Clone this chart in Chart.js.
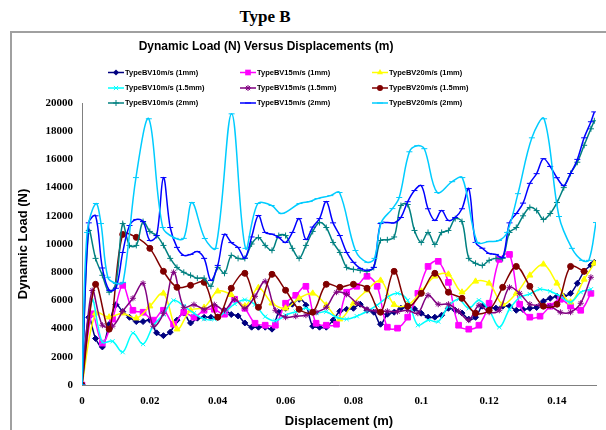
<!DOCTYPE html>
<html>
<head>
<meta charset="utf-8">
<title>Type B</title>
<script src="https://cdn.jsdelivr.net/npm/chart.js@4.4.1/dist/chart.umd.min.js"></script>
<style>
  body { margin: 0; width: 606px; height: 430px; overflow: hidden; background: #fff; position: relative; }
  #head { position: absolute; left: 0; top: 7px; width: 530px; text-align: center; font: bold 17px "Liberation Serif", serif; }
  #frame { position: absolute; left: 10px; top: 31px; width: 640px; height: 440px; border: 2px solid #a0a0a0; }
  #wrap { position: absolute; left: 0; top: 0; width: 606px; height: 430px; }
</style>
</head>
<body>
<div id="head">Type B</div>
<div id="frame"></div>
<div id="wrap"><canvas id="loadChart"></canvas></div>
<script>
// displacement grids (m)
const dispStep2 = [0, 0.002, 0.004, 0.006, 0.008, 0.010, 0.012, 0.014, 0.016, 0.018,
  0.020, 0.022, 0.024, 0.026, 0.028, 0.030, 0.032, 0.034, 0.036, 0.038,
  0.040, 0.042, 0.044, 0.046, 0.048, 0.050, 0.052, 0.054, 0.056, 0.058,
  0.060, 0.062, 0.064, 0.066, 0.068, 0.070, 0.072, 0.074, 0.076, 0.078,
  0.080, 0.082, 0.084, 0.086, 0.088, 0.090, 0.092, 0.094, 0.096, 0.098,
  0.100, 0.102, 0.104, 0.106, 0.108, 0.110, 0.112, 0.114, 0.116, 0.118,
  0.120, 0.122, 0.124, 0.126, 0.128, 0.130, 0.132, 0.134, 0.136, 0.138,
  0.140, 0.142, 0.144, 0.146, 0.148, 0.150, 0.151];
const dispStep3 = [0, 0.003, 0.006, 0.009, 0.012, 0.015, 0.018, 0.021, 0.024, 0.027,
  0.030, 0.033, 0.036, 0.039, 0.042, 0.045, 0.048, 0.051, 0.054, 0.057,
  0.060, 0.063, 0.066, 0.069, 0.072, 0.075, 0.078, 0.081, 0.084, 0.087,
  0.090, 0.093, 0.096, 0.099, 0.102, 0.105, 0.108, 0.111, 0.114, 0.117,
  0.120, 0.123, 0.126, 0.129, 0.132, 0.135, 0.138, 0.141, 0.144, 0.147, 0.150];
const dispStep4 = [0, 0.004, 0.008, 0.012, 0.016, 0.020, 0.024, 0.028, 0.032, 0.036,
  0.040, 0.044, 0.048, 0.052, 0.056, 0.060, 0.064, 0.068, 0.072, 0.076,
  0.080, 0.084, 0.088, 0.092, 0.096, 0.100, 0.104, 0.108, 0.112, 0.116,
  0.120, 0.124, 0.128, 0.132, 0.136, 0.140, 0.144, 0.148, 0.151];
const dispSky = [0, 0.0015, 0.0041, 0.0056, 0.0076, 0.0100, 0.0121, 0.0159, 0.0197, 0.0238,
  0.0276, 0.0300, 0.0324, 0.0362, 0.0394, 0.0441, 0.0482, 0.0518, 0.0559, 0.0588,
  0.0641, 0.0671, 0.0694, 0.0732, 0.0759, 0.0806, 0.0841, 0.0862, 0.0882, 0.0915,
  0.0935, 0.0965, 0.0988, 0.1009, 0.1047, 0.1091, 0.1121, 0.1165, 0.1200, 0.1229,
  0.1253, 0.1285, 0.1326, 0.1362, 0.1406, 0.1444, 0.1474, 0.1494, 0.1515];

// dynamic load (N)
const bv10_1 = [0, 4800, 3300, 2700, 4300, 5700, 5200, 4800, 4500, 4500,
  4600, 3700, 3500, 3750, 4600, 5100, 4400, 4740, 4800, 4800,
  4800, 5300, 5000, 4900, 4400, 4100, 4100, 4100, 3960, 5160,
  5440, 5730, 6080, 5660, 4170, 4100, 4100, 4600, 5230, 5370,
  5440, 5730, 5300, 5160, 4310, 5020, 5160, 5440, 5510, 5400,
  5090, 4810, 4810, 4950, 5440, 5300, 5100, 4670, 4800, 5590,
  5500, 5450, 5590, 5590, 5300, 5350, 5440, 5500, 5940, 6150,
  6290, 6300, 6500, 7210, 8060, 8500, 8700];
const bv15_1 = [0, 5050, 2970, 4670, 7070, 5300, 5160, 4600, 5300, 4310,
  5160, 4810, 5300, 5370, 5020, 6080, 5440, 4380, 4240, 4240,
  5800, 6360, 7000, 4380, 4240, 4310, 6580, 7000, 7710, 7000,
  4100, 4030, 4810, 6500, 8410, 8770, 7280, 4240, 3960, 4240,
  5800, 8910, 9260, 5730, 4810, 4880, 5590, 6080, 5590, 5300, 6500];
const bv20_1 = [0, 5090, 4810, 5090, 4740, 5590, 6500, 3960, 5300, 5500,
  6650, 6400, 5600, 6900, 5800, 5440, 6150, 6500, 5660, 4670,
  5800, 6720, 7420, 5700, 5660, 6650, 7710, 7850, 6580, 7350,
  7210, 5730, 6500, 7780, 8560, 7210, 5870, 7490, 8630];
const bv10_15 = [0, 6000, 3040, 3100, 2330, 3680, 2900, 4200, 5020, 6000,
  5600, 5090, 4670, 4670, 5150, 5750, 6050, 5700, 4850, 4550,
  4950, 5200, 5450, 5100, 5200, 4800, 4670, 4880, 5230, 5660,
  6220, 6500, 6000, 4240, 4600, 4500, 5600, 6080, 5440, 6010,
  5300, 4100, 5370, 6220, 6450, 6790, 6650, 6290, 5870, 6580, 6790];
const bv15_15 = [0, 6700, 4240, 4170, 5230, 6150, 7210, 4170, 5090, 7990,
  5510, 5700, 5370, 5700, 5300, 6080, 5440, 6290, 7350, 5300,
  4810, 4880, 4950, 5160, 5510, 6580, 6430, 5800, 5370, 5230,
  5230, 5200, 5300, 5090, 6360, 5730, 5730, 5230, 4600, 5660,
  5160, 5300, 6930, 6500, 5730, 5660, 5590, 5160, 5160, 5800, 7640];
const bv20_15 = [0, 7140, 3960, 10680, 10470, 9690, 8060, 6930, 7070, 7280,
  4810, 6860, 7920, 5510, 7850, 6720, 5370, 5160, 7140, 6930,
  7140, 6860, 5160, 8060, 5590, 6500, 7920, 6580, 6150, 5090,
  5300, 6930, 8410, 7000, 5590, 5730, 8410, 8060];
const bv10_2 = [0, 10960, 8980, 7780, 6580, 7210, 11450, 9900, 9900, 11590,
  10890, 10600, 9900, 8980, 8340, 7990, 7780, 7570, 7570, 7000,
  8340, 7920, 9190, 8980, 8980, 10000, 10460, 9900, 9550, 10600,
  10600, 9690, 8980, 9900, 10890, 11520, 11170, 10110, 9400, 8340,
  8200, 8130, 8060, 8340, 10250, 10300, 10500, 12730, 12800, 10960,
  10110, 10820, 9970, 10820, 10960, 11800, 11590, 8980, 8630, 8480,
  8840, 8980, 8980, 10820, 11170, 12000, 12590, 12370, 11740, 12160,
  12940, 14000, 15000, 15800, 17000, 18170, 18740];
const bv15_2 = [0, 11500, 12000, 8300, 6720, 6860, 9400, 11310, 11740, 11590,
  10250, 10600, 14710, 11170, 9760, 9190, 9260, 9470, 8980, 7420,
  8480, 10680, 10100, 9760, 9000, 10500, 12020, 10820, 10700, 10470,
  10110, 10820, 11800, 10320, 11200, 11800, 13010, 11500, 10600, 9400,
  8700, 8270, 8130, 8340, 11450, 11520, 11500, 11880, 13000, 13790,
  14140, 12500, 11670, 12370, 11670, 11880, 12500, 13930, 10110, 9700,
  9330, 9260, 9050, 11500, 12160, 12900, 14300, 14990, 16050, 15500,
  14700, 14140, 15000, 16000, 17530, 18670, 19370];
const bv20_2 = [0, 10820, 12870, 11450, 7640, 7210, 7280, 14710, 18880, 11170,
  10400, 10400, 12940, 10390, 9690, 19230, 9690, 12870, 12730, 12160,
  12870, 13010, 13220, 13430, 13650, 9540, 8700, 8980, 11520, 12510,
  13300, 16540, 16970, 16760, 13650, 14420, 14710, 10110, 10180, 10250,
  10820, 13570, 17530, 18880, 11950, 9690, 8840, 8840, 11520];

const seriesNames = ['TypeBV10m/s (1mm)', 'TypeBV15m/s (1mm)', 'TypeBV20m/s (1mm)',
  'TypeBV10m/s (1.5mm)', 'TypeBV15m/s (1.5mm)', 'TypeBV20m/s (1.5mm)',
  'TypeBV10m/s (2mm)', 'TypeBV15m/s (2mm)', 'TypeBV20m/s (2mm)'];
const xTickValues = [0, 0.02, 0.04, 0.06, 0.08, 0.1, 0.12, 0.14];

const seriesX = [dispStep2, dispStep3, dispStep4, dispStep3, dispStep3, dispStep4, dispStep2, dispStep2, dispSky];
const seriesY = [bv10_1, bv15_1, bv20_1, bv10_15, bv15_15, bv20_15, bv10_2, bv15_2, bv20_2];
const colors = ['#000080', '#FF00FF', '#FFFF00', '#00FFFF', '#800080', '#800000', '#008080', '#0000FF', '#00CCFF'];
const markers = ['rectRot', 'rect', 'triangle', 'crossRot', 'star', 'circle', 'cross', 'line', 'line'];
const markerSize = [3, 4, 3.5, 3, 3, 3, 3, 3, 3];

const datasets = seriesNames.map((name, i) => ({
  label: name,
  data: seriesY[i].map((v, j) => ({ x: seriesX[i][j], y: v })),
  showLine: true,
  borderColor: colors[i],
  backgroundColor: colors[i],
  borderWidth: 1.5,
  tension: 0.35,
  pointStyle: markers[i],
  pointRadius: markerSize[i],
  pointBorderWidth: 1,
  pointBackgroundColor: colors[i],
  pointBorderColor: colors[i],
  order: 8 - i
}));

// small marker painter for the legend
function drawMarker(ctx, style, r, x, y) {
  ctx.beginPath();
  if (style === 'rectRot') {
    ctx.moveTo(x, y - r); ctx.lineTo(x + r, y); ctx.lineTo(x, y + r); ctx.lineTo(x - r, y); ctx.closePath(); ctx.fill();
  } else if (style === 'rect') {
    const s = r * Math.SQRT1_2;
    ctx.rect(x - s, y - s, 2 * s, 2 * s); ctx.fill();
  } else if (style === 'triangle') {
    ctx.moveTo(x, y - r); ctx.lineTo(x + r * 0.866, y + r * 0.5); ctx.lineTo(x - r * 0.866, y + r * 0.5); ctx.closePath(); ctx.fill();
  } else if (style === 'circle') {
    ctx.arc(x, y, r, 0, Math.PI * 2); ctx.fill();
  } else {
    const d = r * Math.SQRT1_2;
    if (style === 'crossRot' || style === 'star') {
      ctx.moveTo(x - d, y - d); ctx.lineTo(x + d, y + d);
      ctx.moveTo(x - d, y + d); ctx.lineTo(x + d, y - d);
    }
    if (style === 'cross' || style === 'star') {
      ctx.moveTo(x, y - r); ctx.lineTo(x, y + r);
      ctx.moveTo(x - r, y); ctx.lineTo(x + r, y);
    }
    if (style === 'line') {
      ctx.moveTo(x - r, y); ctx.lineTo(x + r, y);
    }
    ctx.stroke();
  }
}

const headerPlugin = {
  id: 'header',
  afterDraw(chart) {
    const ctx = chart.ctx;
    ctx.save();
    ctx.fillStyle = '#000';
    ctx.textAlign = 'center';
    ctx.textBaseline = 'middle';
    ctx.font = 'bold 12px "Liberation Sans", Arial, sans-serif';
    ctx.fillText('Dynamic Load (N) Versus Displacements (m)', 266, 47);

    const colX = [108, 240, 372];
    const rowY = [72.5, 88, 103];
    ctx.font = 'bold 7.5px "Liberation Sans", Arial, sans-serif';
    ctx.textAlign = 'left';
    seriesNames.forEach((name, i) => {
      const x = colX[i % 3], y = rowY[Math.floor(i / 3)];
      ctx.strokeStyle = colors[i];
      ctx.fillStyle = colors[i];
      ctx.lineWidth = 1.5;
      ctx.beginPath(); ctx.moveTo(x, y); ctx.lineTo(x + 16, y); ctx.stroke();
      ctx.lineWidth = 1;
      drawMarker(ctx, markers[i], markerSize[i], x + 8, y);
      ctx.fillStyle = '#000';
      ctx.fillText(name, x + 17, y);
    });
    ctx.restore();
  }
};

const tickFont = { family: '"Liberation Serif", "Times New Roman", serif', size: 11, weight: 'bold' };
const titleFont = { family: '"Liberation Sans", Arial, sans-serif', size: 13, weight: 'bold' };

new Chart(document.getElementById('loadChart'), {
  type: 'scatter',
  data: { datasets: datasets },
  options: {
    responsive: true,
    maintainAspectRatio: false,
    animation: false,
    devicePixelRatio: 1,
    layout: { padding: { top: 103, left: 14, right: 10, bottom: 0 } },
    plugins: {
      legend: { display: false },
      title: { display: false },
      tooltip: { enabled: false }
    },
    scales: {
      x: {
        type: 'linear',
        min: 0,
        max: 0.1515,
        afterFit: s => { s.height = 45; },
        afterBuildTicks: s => { s.ticks = xTickValues.map(v => ({ value: v })); },
        grid: { display: false, drawTicks: false, tickLength: 0 },
        border: { display: true, color: '#808080', width: 1 },
        ticks: { font: tickFont, color: '#000', padding: 10, maxRotation: 0, autoSkip: false,
                 callback: v => String(+v.toFixed(2)) },
        title: { display: true, text: 'Displacement (m)', font: titleFont, color: '#000', padding: { top: 0, bottom: 1 } }
      },
      y: {
        min: 0,
        max: 20000,
        afterFit: s => { s.width = 68; },
        grid: { display: false, drawTicks: false, tickLength: 0 },
        border: { display: true, color: '#808080', width: 1 },
        ticks: { stepSize: 2000, font: tickFont, color: '#000', padding: 9,
                 callback: v => String(v) },
        title: { display: true, text: 'Dynamic Load (N)', font: titleFont, color: '#000', padding: { top: 2, bottom: 0 } }
      }
    }
  },
  plugins: [headerPlugin]
});
</script>
</body>
</html>
